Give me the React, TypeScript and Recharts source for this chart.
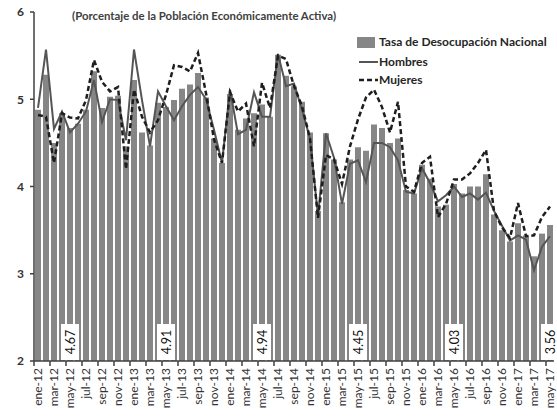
import { ComposedChart, Bar, Line, XAxis, YAxis, LabelList } from 'recharts';

const meses = ['ene', 'feb', 'mar', 'abr', 'may', 'jun', 'jul', 'ago', 'sep', 'oct', 'nov', 'dic'];
const anios = ['12', '13', '14', '15', '16', '17'];
const categorias = anios.flatMap((a) => meses.map((m) => `${m}-${a}`)).slice(0, 65);

// Tasa de desocupación nacional (%)
const tasa = [
    4.88, 5.28, 4.50, 4.84, 4.67, 4.72, 4.88, 5.32, 4.90, 5.03, 5.04, 4.46,
    5.22, 4.62, 4.47, 4.96, 4.91, 4.99, 5.12, 5.17, 5.30, 5.02, 4.55, 4.27,
    5.06, 4.65, 4.78, 4.84, 4.94, 4.80, 5.51, 5.27, 5.15, 4.97, 4.62, 3.72,
    4.61, 4.31, 3.82, 4.31, 4.45, 4.41, 4.71, 4.67, 4.50, 4.55, 3.96, 3.92,
    4.25, 4.09, 3.77, 3.79, 4.03, 3.92, 4.00, 4.00, 4.14, 3.68, 3.50, 3.37,
    3.58, 3.44, 3.20, 3.46, 3.56,
];

const hombres = [
    4.90, 5.57, 4.66, 4.86, 4.62, 4.72, 4.86, 5.22, 4.74, 5.00, 4.99, 4.53,
    5.57, 4.99, 4.46, 5.09, 4.92, 4.76, 4.92, 5.05, 5.14, 5.00, 4.65, 4.27,
    5.11, 4.60, 4.65, 5.08, 4.80, 4.80, 5.52, 5.15, 5.18, 4.88, 4.55, 3.66,
    4.61, 4.33, 3.80, 4.26, 4.30, 4.05, 4.50, 4.50, 4.45, 4.30, 3.94, 3.92,
    4.21, 4.04, 3.83, 3.90, 4.00, 3.88, 3.92, 3.85, 3.93, 3.72, 3.55, 3.38,
    3.44, 3.39, 3.04, 3.31, 3.43,
];

const mujeres = [
    4.82, 4.80, 4.27, 4.84, 4.79, 4.78, 4.99, 5.45, 5.20, 5.09, 5.14, 4.20,
    5.11, 4.80, 4.62, 4.76, 5.05, 5.39, 5.37, 5.32, 5.53, 5.07, 4.54, 4.27,
    5.08, 4.86, 4.95, 4.46, 5.19, 4.90, 5.50, 5.46, 5.15, 4.92, 4.55, 3.64,
    4.36, 4.31, 4.03, 4.46, 4.77, 5.02, 5.11, 4.91, 4.62, 4.97, 4.00, 3.94,
    4.27, 4.34, 3.65, 3.80, 4.08, 4.08, 4.15, 4.27, 4.42, 3.72, 3.53, 3.41,
    3.81, 3.43, 3.44, 3.65, 3.77,
];

const etiquetas = ['may-12', 'may-13', 'may-14', 'may-15', 'may-16', 'may-17'];
const yTicks = [2, 3, 4, 5, 6];

const data = categorias.map((mes, i) => ({
    mes,
    tasa: tasa[i],
    hombres: hombres[i],
    mujeres: mujeres[i],
}));

const FONT = 'Lato, "Open Sans", sans-serif';
const AXIS = '#404040';

function XTick({ x, y, payload }: any) {
    return (
        <g>
            <line x1={x - 4} x2={x - 4} y1={y} y2={y + 5} stroke={AXIS} strokeWidth={1.5} />
            <text
                x={x}
                y={y + 7}
                transform={`rotate(-90 ${x} ${y + 7})`}
                textAnchor="end"
                dy="0.35em"
                fontSize={12}
                fontFamily={FONT}
                fill="#333"
            >
                {payload.value}
            </text>
        </g>
    );
}

function EtiquetaMayo(props: any) {
    const { x, y, width, height, value, index } = props;
    if (!etiquetas.includes(categorias[index])) return null;
    const cx = x + width / 2;
    const base = y + height;
    const cy = base - 19;
    return (
        <g>
            <rect x={cx - 9} y={base - 37} width={18} height={36} fill="#fff" />
            <text
                x={cx}
                y={cy}
                transform={`rotate(-90 ${cx} ${cy})`}
                textAnchor="middle"
                dy="0.36em"
                fontSize={12.5}
                fontFamily={FONT}
                fill="#111"
            >
                {Number(value).toFixed(2)}
            </text>
        </g>
    );
}

const legendText: React.CSSProperties = {
    position: 'absolute',
    left: 379,
    fontFamily: FONT,
    fontWeight: 700,
    fontSize: 12,
    color: '#262626',
    lineHeight: '14px',
    whiteSpace: 'nowrap',
};

export default function App() {
    return (
        <div style={{ position: 'absolute', left: 0, top: 0, width: 557, height: 419, background: '#fff' }}>
            <ComposedChart
                width={557}
                height={419}
                data={data}
                margin={{ top: 12, right: 3, bottom: 0, left: 0 }}
            >
                <XAxis
                    dataKey="mes"
                    interval={1}
                    tickSize={0}
                    tickMargin={0}
                    height={58}
                    tick={<XTick />}
                    axisLine={{ stroke: AXIS, strokeWidth: 1.5 }}
                    tickLine={false}
                />
                <YAxis
                    domain={[2, 6]}
                    ticks={yTicks}
                    width={34}
                    tickSize={4}
                    tickMargin={6}
                    axisLine={{ stroke: AXIS, strokeWidth: 1.5 }}
                    tickLine={{ stroke: AXIS, strokeWidth: 1.5 }}
                    tick={{ fontSize: 12, fontWeight: 700, fontFamily: FONT, fill: '#333' }}
                    allowDataOverflow
                />
                <Bar dataKey="tasa" fill="#868686" barSize={6} isAnimationActive={false}>
                    <LabelList dataKey="tasa" content={<EtiquetaMayo />} />
                </Bar>
                <Line
                    type="linear"
                    dataKey="hombres"
                    stroke="#555555"
                    strokeWidth={2}
                    dot={false}
                    activeDot={false}
                    isAnimationActive={false}
                />
                <Line
                    type="linear"
                    dataKey="mujeres"
                    stroke="#1e1e1e"
                    strokeWidth={2.5}
                    strokeDasharray="5 3"
                    dot={false}
                    activeDot={false}
                    isAnimationActive={false}
                />
            </ComposedChart>

            <div
                style={{
                    position: 'absolute',
                    left: 72,
                    top: 9,
                    fontFamily: FONT,
                    fontWeight: 700,
                    fontSize: 11.4,
                    color: '#404040',
                    whiteSpace: 'nowrap',
                }}
            >
                (Porcentaje de la Población Económicamente Activa)
            </div>

            <div style={{ position: 'absolute', left: 357, top: 37, width: 18, height: 11, background: '#868686' }} />
            <div style={{ ...legendText, top: 35 }}>Tasa de Desocupación Nacional</div>
            <svg style={{ position: 'absolute', left: 357, top: 55 }} width={22} height={32}>
                <line x1={2} x2={21} y1={7} y2={7} stroke="#555555" strokeWidth={2} />
                <line x1={2} x2={21} y1={25} y2={25} stroke="#1e1e1e" strokeWidth={2.5} strokeDasharray="5 3" />
            </svg>
            <div style={{ ...legendText, top: 55 }}>Hombres</div>
            <div style={{ ...legendText, top: 73 }}>Mujeres</div>
        </div>
    );
}
